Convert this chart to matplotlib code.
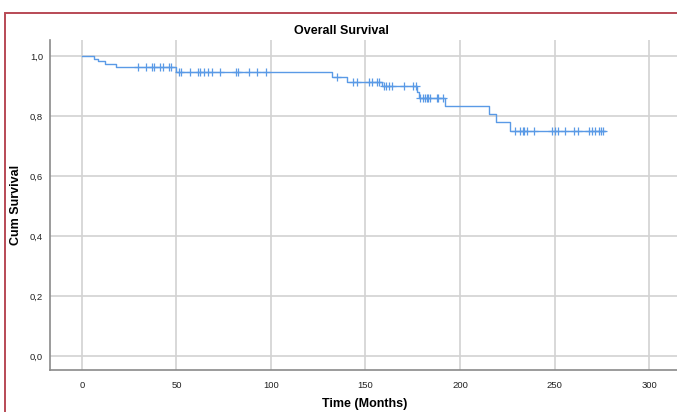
import numpy as np
import matplotlib
matplotlib.use("Agg")
import matplotlib.pyplot as plt
from matplotlib.patches import Rectangle

# ---- data ----
event_times = [0, 6.2, 8.3, 12.4, 18.2, 50.0, 132.3, 140.1, 158.8, 177.0, 178.5, 192.2, 215.1, 219.0, 226.2]
survival    = [1.0, 0.991, 0.983, 0.974, 0.964, 0.945, 0.929, 0.913, 0.899, 0.88, 0.861, 0.833, 0.806, 0.779, 0.751]
censor_times = [29.5, 33.9, 37.1, 38.3, 41.2, 42.8, 45.9, 47.2,
                51.2, 52.3, 57.1, 61.3, 62.7, 64.8, 66.6, 68.9, 73.0, 81.3, 82.5, 88.3, 92.4, 97.5,
                134.8, 143.3, 145.4, 152.1, 153.3, 156.3, 157.1,
                159.9, 160.9, 162.2, 163.9, 170.5, 175.4, 176.5,
                178.9, 180.6, 181.5, 182.4, 183.3, 184.2, 187.7, 188.6, 190.9,
                229.2, 231.8, 233.1, 234.1, 235.7, 238.9, 248.6, 250.3, 251.6, 255.6,
                260.4, 262.2, 268.5, 269.8, 271.5, 273.8, 274.7, 275.6]
end_time = 276.8
x_ticks = [0, 50, 100, 150, 200, 250, 300]
y_ticks = [0.0, 0.2, 0.4, 0.6, 0.8, 1.0]

W, H = 677, 412
fig = plt.figure(figsize=(W / 100, H / 100), dpi=100)
plt.rcParams['font.family'] = ['Liberation Sans', 'DejaVu Sans']

# outer frame
fig.patches.append(Rectangle((5 / W, -0.1), 1.2, (H - 13) / H + 0.1,
                             transform=fig.transFigure, fill=False,
                             edgecolor='#b84a55', linewidth=1.4))

ax = fig.add_axes([50 / W, 42 / H, 1 - 50 / W, (370 - 40) / H])
ax.set_xlim(-16.9, 314.8)
ax.set_ylim(-0.047, 1.053)

# step curve
xs = list(event_times) + [end_time]
ys = list(survival) + [survival[-1]]
ax.step(xs, ys, where='post', color='#5a9ae6', linewidth=1.0, zorder=3)

# censor marks
idx = np.searchsorted(np.array(event_times), np.array(censor_times), side='right') - 1
cy = np.array(survival)[idx]
ax.plot(censor_times, cy, linestyle='none', marker='+', markersize=6,
        markeredgewidth=0.9, color='#5a9ae6', zorder=4)

ax.set_xticks(x_ticks)
ax.set_yticks(y_ticks)
ax.set_yticklabels([f"{v:.1f}".replace('.', ',') for v in y_ticks])
ax.tick_params(axis='both', length=0, labelsize=6.8, colors='#222222')
ax.tick_params(axis='x', pad=8)
ax.tick_params(axis='y', pad=5)
ax.grid(True, color='#d2d2d2', linewidth=1.2)
ax.set_axisbelow(True)
for s in ['top', 'right']:
    ax.spines[s].set_visible(False)
for s in ['left', 'bottom']:
    ax.spines[s].set_color('#8a8a8a')
    ax.spines[s].set_linewidth(1.2)

fig.text(365 / W, 1 - 404 / H, 'Time (Months)', ha='center', va='center',
         fontsize=9, fontweight='bold')
fig.text(16 / W, 1 - 205 / H, 'Cum Survival', ha='center', va='center',
         rotation=90, fontsize=9, fontweight='bold')
fig.text(341 / W, 1 - 31 / H, 'Overall Survival', ha='center', va='center',
         fontsize=9, fontweight='bold')

fig.savefig('out.png', dpi=100)
